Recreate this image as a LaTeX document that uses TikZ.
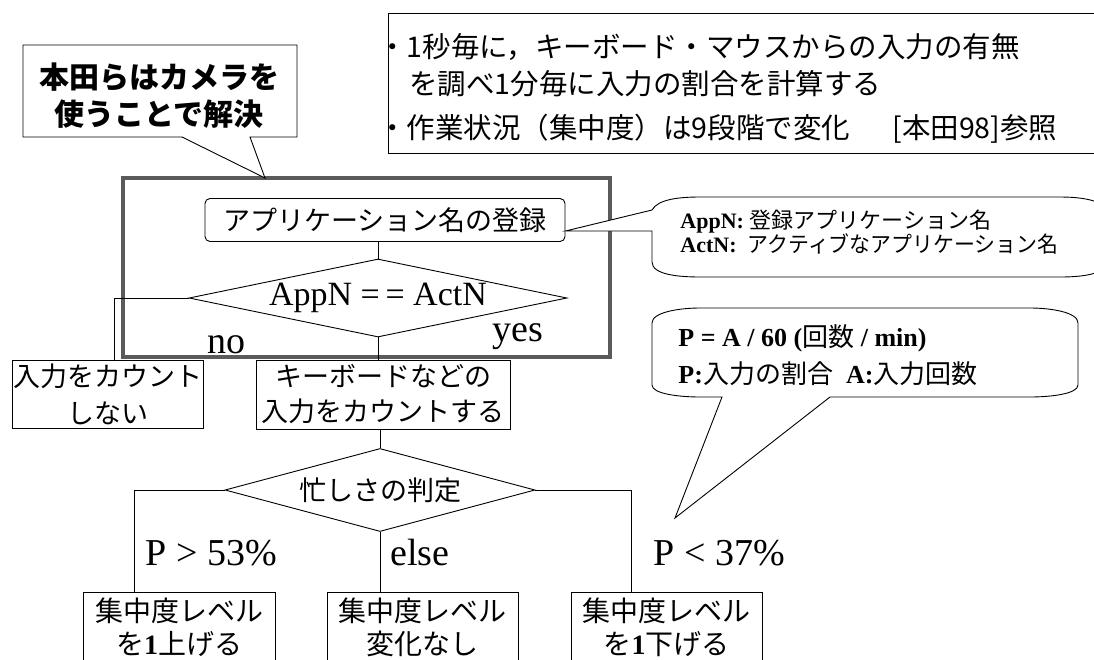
\documentclass[tikz,border=0pt]{standalone}
\usepackage{fontspec}
\setmainfont{Liberation Serif}
\newfontfamily\jp{Noto Sans CJK JP}
\usetikzlibrary{shapes.geometric}
\newcommand\fsz[2]{\fontsize{#1}{#2}\selectfont}
\definecolor{framegray}{HTML}{5A5A5A}
\begin{document}
\begin{tikzpicture}[x=1pt,y=-1pt,line width=0.9pt,
  pbox/.style={draw,rectangle,inner sep=0pt,align=center,fill=white},
  dia/.style={draw,diamond,inner sep=0pt,fill=white},
  txt/.style={inner sep=0pt,anchor=base west},
  lbl/.style={inner sep=0pt,anchor=base west,font=\fsz{38}{38}}]
\useasboundingbox (0,0) rectangle (1094,659);
\clip (0,0) rectangle (1094,659);

% note box top right
\node[draw,inner sep=0,minimum width=732,minimum height=140,anchor=north west] (note) at (388,13) {};
\node[txt,font=\jp\fsz{28.5}{28.5}] (n1) at (378,57) {・1秒毎に，キーボード・マウスからの入力の有無};
\node[txt,font=\jp\fsz{28.5}{28.5}] (n2) at (409,94) {を調べ1分毎に入力の割合を計算する};
\node[txt,font=\jp\fsz{28.5}{28.5}] (n3) at (378,138) {・作業状況（集中度）は9段階で変化};
\node[txt,font=\jp\fsz{28.5}{28.5}] (n4) at (892,138) {[本田98]参照};

% grouping frame
\node[draw=framegray,line width=4pt,inner sep=0,minimum width=487,minimum height=179] (frame) at (366.5,267.5) {};

% top-left callout
\coordinate (camtip) at (265,178);
\draw[fill=white] (23,45) -- (297,45) -- (297,137) -- (250,137) -- (camtip) -- (182,137) -- (23,137) -- cycle;
\node[txt,anchor=base,font=\jp\bfseries\fsz{30}{30}] (cam1) at (159,88) {本田らはカメラを};
\node[txt,anchor=base,font=\jp\bfseries\fsz{30}{30}] (cam2) at (159,125) {使うことで解決};

% flow
\node[pbox,rounded corners=5pt,minimum width=360,minimum height=43,font=\jp\fsz{27}{27}] (reg) at (385,220) {アプリケーション名の登録};
\node[dia,minimum width=378,minimum height=78] (d1) at (378,298) {};
\node[inner sep=0,font=\fsz{34}{34}] (d1t) at (d1.center) {AppN =\,= ActN};
\node[pbox,minimum width=191,minimum height=68,font=\jp\fsz{27}{37}] (nob) at (107.5,394) {入力をカウント\\しない};
\node[pbox,minimum width=254,minimum height=69,font=\jp\fsz{27}{35}] (yb) at (383,394.5) {キーボードなどの\\入力をカウントする};
\node[dia,minimum width=310,minimum height=83] (d2) at (380,490) {};
\node[inner sep=0,font=\jp\fsz{27}{27}] (d2t) at (d2.center) {忙しさの判定};
\node[pbox,minimum width=192,minimum height=70,font=\jp\fsz{28}{33}] (b1) at (179,627) {集中度レベル\\を{\rmfamily\bfseries 1}上げる};
\node[pbox,minimum width=191,minimum height=70,font=\jp\fsz{28}{33}] (b2) at (422.5,627) {集中度レベル\\変化なし};
\node[pbox,minimum width=191,minimum height=70,font=\jp\fsz{28}{33}] (b3) at (666.5,627) {集中度レベル\\を{\rmfamily\bfseries 1}下げる};

\draw (reg.south -| d1.north) -- (d1.north);
\draw (d1.west) -| ([xshift=6.5pt]nob.north);
\draw (d1.south) -- (d1.south |- yb.north);
\draw (yb.south -| d2.north) -- (d2.north);
\draw (d2.west) -| ([xshift=-45pt]b1.north);
\draw (d2.south) -- (d2.south |- b2.north);
\draw (d2.east) -| ([xshift=-35.5pt]b3.north);

\node[lbl,anchor=base] (no) at (226,353) {no};
\node[lbl,anchor=base] (yes) at (518,341) {yes};
\node[lbl] (gt) at (145,565) {P > 53\%};
\node[lbl] (el) at (390,565) {else};
\node[lbl] (lt) at (653,565) {P < 37\%};

% balloon 1
\coordinate (b1tip) at (reg.east |- 0,231);
\draw[fill=white] (b1tip) -- (652,210) .. controls (658,199) and (680,197) .. (700,197) -- (1060,197) .. controls (1090,197) and (1108,203) .. (1108,215) -- (1108,260) .. controls (1108,272) and (1090,277) .. (1060,277) -- (700,277) .. controls (680,277) and (652,275) .. (652,262) -- (652,231) -- cycle;
\node[txt,font=\fsz{22}{22}] (bl1a) at (680,228) {\textbf{AppN:} {\jp 登録アプリケーション名}};
\node[txt,font=\fsz{22}{22}] (bl1b) at (680,252) {\textbf{ActN:}\ \ {\jp\scalebox{0.95}[1]{アクティブなアプリケーション名}}};

% balloon 2
\coordinate (b2tip) at (675,518);
\draw[fill=white] (652,323) .. controls (652,312) and (680,308) .. (700,308) -- (1030,308) .. controls (1050,308) and (1078,312) .. (1078,323) -- (1078,385) .. controls (1078,394) and (1050,397) .. (1030,397) -- (830,397) -- (b2tip) -- (722,397) -- (700,397) .. controls (680,397) and (652,394) .. (652,385) -- cycle;
\node[txt,font=\fsz{26}{26}\bfseries] (bl2a) at (678,346) {P = A / 60 ({\jp\mdseries 回数} / min)};
\node[txt,font=\fsz{26}{26}\bfseries] (bl2b) at (678,383) {P:{\jp\mdseries 入力の割合}\ \ A:{\jp\mdseries 入力回数}};
\end{tikzpicture}
\end{document}
